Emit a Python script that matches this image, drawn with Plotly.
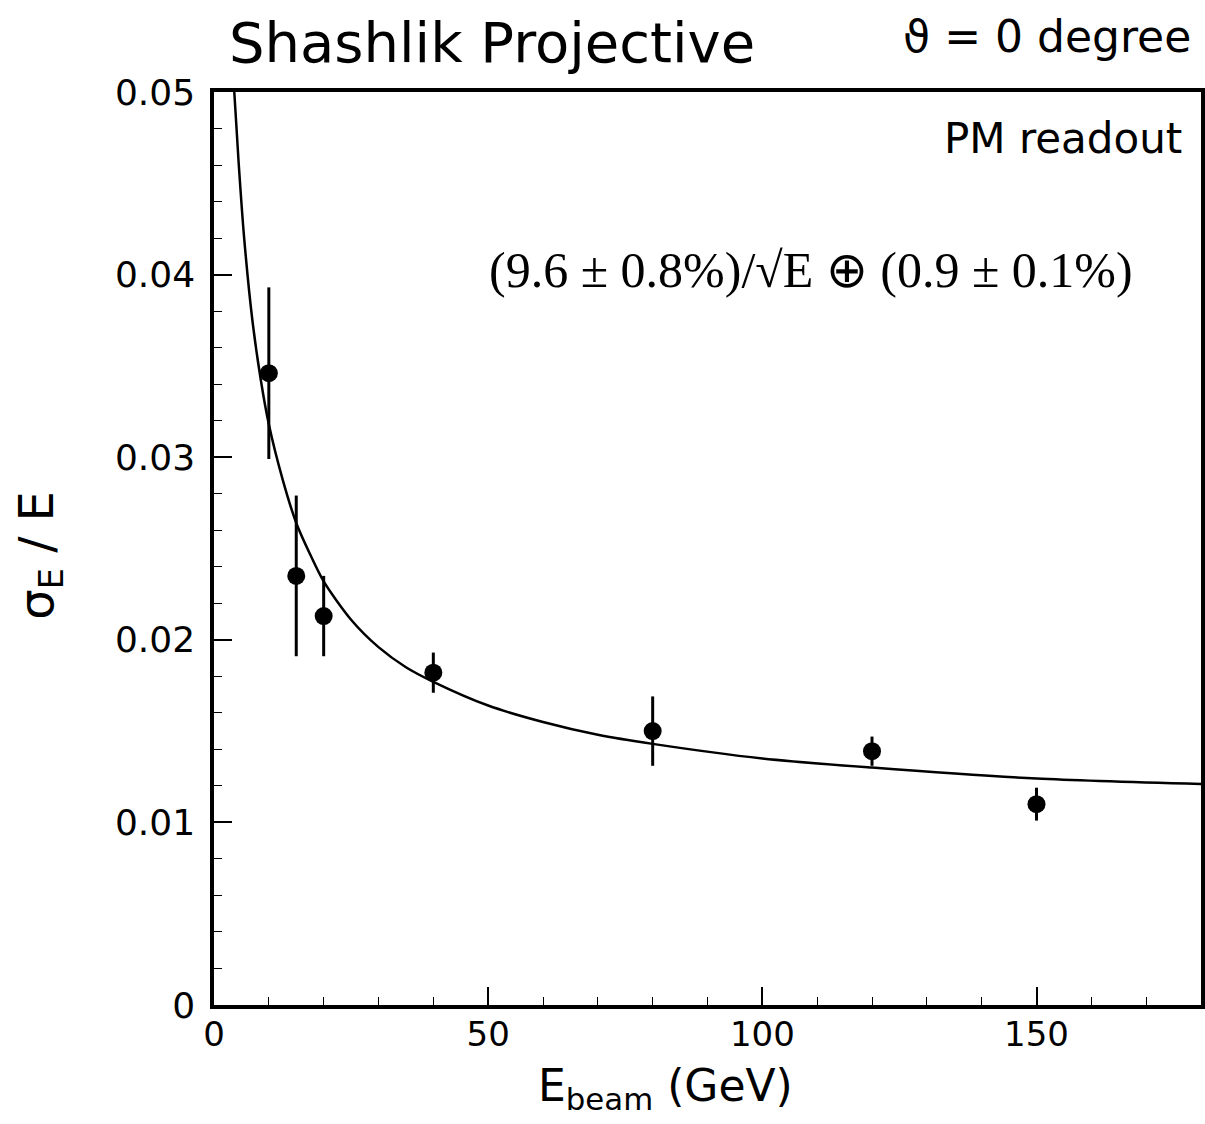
import plotly.graph_objects as go

# measured points
e_beam = [10, 15, 20, 40, 80, 120, 150]
sigma_rel = [0.0346, 0.0235, 0.0213, 0.0182, 0.0150, 0.0139, 0.0110]
sigma_err = [0.0047, 0.0044, 0.0022, 0.0011, 0.0019, 0.0008, 0.0009]

# fitted curve
fit_e = [3.7, 4.5, 5.5, 7, 8.5, 10, 12.5, 15, 17.5, 20, 25, 30, 35, 40,
         50, 60, 70, 80, 100, 120, 150, 180]
fit_s = [0.0500, 0.0461, 0.0420, 0.0375, 0.0343, 0.0318, 0.0288, 0.0264,
         0.0247, 0.0232, 0.0211, 0.0196, 0.0185, 0.0177, 0.0164, 0.0155,
         0.0148, 0.0143, 0.0135, 0.0130, 0.0124, 0.0121]

x_ticks = [0, 50, 100, 150]
x_ticktext = ["0", "50", "100", "150"]
y_ticks = [0, 0.01, 0.02, 0.03, 0.04, 0.05]
y_ticktext = ["0", "0.01", "0.02", "0.03", "0.04", "0.05"]

W, H = 1205, 1124
L, R, T, B = 214, 0, 92, 119
PW, PH = W - L - R, H - T - B


def px(xp):
    return (xp - L) / PW


def py(yp):
    return (H - B - yp) / PH


fig = go.Figure()
fig.add_trace(go.Scatter(
    x=fit_e, y=fit_s, mode="lines",
    line=dict(color="black", width=2.5, shape="spline", smoothing=0.8),
    hoverinfo="skip", showlegend=False))
fig.add_trace(go.Scatter(
    x=e_beam, y=sigma_rel, mode="markers",
    marker=dict(color="black", size=18, symbol="circle"),
    error_y=dict(type="data", array=sigma_err, visible=True,
                 color="black", thickness=3, width=0),
    showlegend=False))

sans = "DejaVu Sans"
fig.update_layout(
    width=W, height=H,
    margin=dict(l=L, r=R, t=T, b=B),
    paper_bgcolor="white", plot_bgcolor="white",
    font=dict(family=sans, color="black", size=32),
    xaxis=dict(
        range=[0, 180], showgrid=False, zeroline=False,
        showline=True, linecolor="black", linewidth=3.5, mirror=True,
        ticks="inside", ticklen=18, tickwidth=1.5, tickcolor="black",
        tickvals=x_ticks, ticktext=x_ticktext,
        tickfont=dict(family=sans, size=34),
        ticklabelstandoff=-4,
        minor=dict(dtick=10, ticks="inside", ticklen=8, tickcolor="black", tickwidth=1.2),
    ),
    yaxis=dict(
        range=[0, 0.05], showgrid=False, zeroline=False,
        showline=True, linecolor="black", linewidth=3.5, mirror=True,
        ticks="inside", ticklen=18, tickwidth=1.5, tickcolor="black",
        tickvals=y_ticks, ticktext=y_ticktext,
        tickfont=dict(family=sans, size=36),
        ticklabelstandoff=8,
        minor=dict(dtick=0.002, ticks="inside", ticklen=8, tickcolor="black", tickwidth=1.2),
    ),
)
fig.add_annotation(text="Shashlik Projective", xref="paper", yref="paper",
                   x=px(493), xanchor="center", y=py(42), yanchor="middle",
                   showarrow=False, font=dict(family=sans, size=56))
fig.add_annotation(text="ϑ = 0 degree", xref="paper", yref="paper",
                   x=px(1197), xanchor="right", y=py(37), yanchor="middle",
                   showarrow=False, font=dict(family=sans, size=44))
fig.add_annotation(text="PM readout", xref="paper", yref="paper",
                   x=px(1188), xanchor="right", y=py(138), yanchor="middle",
                   showarrow=False, font=dict(family=sans, size=42))
fig.add_annotation(text="(9.6 ± 0.8%)/√E ⊕ (0.9 ± 0.1%)", xref="paper", yref="paper",
                   x=px(813), xanchor="center", y=py(270), yanchor="middle",
                   showarrow=False, font=dict(family="Liberation Serif", size=50))
fig.add_annotation(text="E<sub>beam</sub> (GeV)", xref="paper", yref="paper",
                   x=px(667), xanchor="center", y=py(1088), yanchor="middle",
                   showarrow=False, font=dict(family=sans, size=44))
fig.add_annotation(text="σ<sub>E</sub> / E", xref="paper", yref="paper",
                   x=px(38), xanchor="center", y=py(555), yanchor="middle",
                   textangle=-90, showarrow=False, font=dict(family=sans, size=48))

fig.write_html("out.html")
